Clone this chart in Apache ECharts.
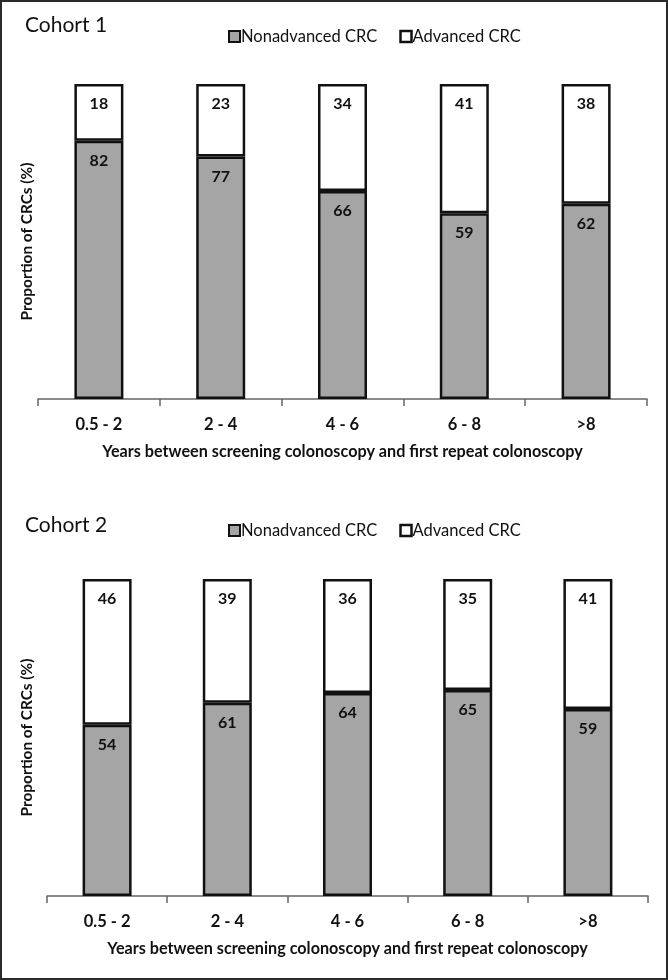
<!DOCTYPE html>
<html><head><meta charset="utf-8">
<script src="https://cdn.jsdelivr.net/npm/echarts@6/dist/echarts.min.js"></script>
<style>
html,body{margin:0;padding:0;background:#fff;}
#c{width:668px;height:980px;box-sizing:border-box;border:2px solid #2a2a2a;}
</style></head>
<body><div id="c"></div>
<script>
const categories = ['0.5 - 2', '2 - 4', '4 - 6', '6 - 8', '>8'];
const cohort1Nonadvanced = [82, 77, 66, 59, 62];
const cohort1Advanced = [18, 23, 34, 41, 38];
const cohort2Nonadvanced = [54, 61, 64, 65, 59];
const cohort2Advanced = [46, 39, 36, 35, 41];
const seriesNames = ['Nonadvanced CRC', 'Advanced CRC'];
const panelTitles = ['Cohort 1', 'Cohort 2'];
const xName = 'Years between screening colonoscopy and first repeat colonoscopy';
const yName = 'Proportion of CRCs (%)';

const FONT = 'Lato';
const GRAY = '#a5a5a5';
const chart = echarts.init(document.getElementById('c'), null, {renderer: 'canvas'});

function xAxis(gi) {
  return {
    type: 'category', gridIndex: gi, data: categories, boundaryGap: true,
    axisLine: {lineStyle: {color: '#666', width: 1.5}},
    axisTick: {show: true, length: 7, lineStyle: {color: '#666', width: 1.5}},
    axisLabel: {color: '#111', fontSize: 16.5, fontWeight: 'bold', fontFamily: FONT, margin: 17},
    name: xName, nameLocation: 'middle', nameGap: 45,
    nameTextStyle: {color: '#111', fontSize: 16.2, fontWeight: 'bold', fontFamily: FONT}
  };
}
function yAxis(gi, gap) {
  return {
    type: 'value', gridIndex: gi, min: 0, max: 100,
    axisLine: {show: false}, axisTick: {show: false}, axisLabel: {show: false}, splitLine: {show: false},
    name: yName, nameLocation: 'middle', nameGap: gap, nameRotate: 90,
    nameTextStyle: {color: '#111', fontSize: 15.4, fontWeight: 'bold', fontFamily: FONT}
  };
}
function bar(name, data, gi, fill) {
  return {
    name: name, type: 'bar', stack: 's' + gi, data: data,
    xAxisIndex: gi, yAxisIndex: gi, barWidth: 49,
    itemStyle: {color: fill, borderColor: '#111', borderWidth: 2.5},
    label: {show: true, position: 'insideTop', distance: 12, color: '#111',
      fontSize: 16, fontWeight: 'bold', fontFamily: FONT}
  };
}
function legend(top) {
  return {
    top: top, left: 221, itemGap: 22, itemWidth: 11, itemHeight: 11, icon: 'rect',
    data: [
      {name: seriesNames[0], itemStyle: {color: GRAY, borderColor: '#111', borderWidth: 2}},
      {name: seriesNames[1], itemStyle: {color: '#fff', borderColor: '#111', borderWidth: 2.5}}
    ],
    selectedMode: false,
    textStyle: {color: '#111', fontSize: 16.5, fontFamily: FONT, padding: [0, 0, 0, -4]}
  };
}

chart.setOption({
  animation: false,
  backgroundColor: '#fff',
  title: [
    {text: panelTitles[0], left: 18, top: 8, textStyle: {color: '#111', fontSize: 21, fontWeight: 'normal', fontFamily: FONT}},
    {text: panelTitles[1], left: 18, top: 508, textStyle: {color: '#111', fontSize: 21, fontWeight: 'normal', fontFamily: FONT}}
  ],
  legend: [legend(21), legend(515)],
  grid: [
    {left: 36, right: 19, top: 82, bottom: 579},
    {left: 45, right: 18, top: 577, bottom: 82}
  ],
  xAxis: [xAxis(0), xAxis(1)],
  yAxis: [yAxis(0, 3), yAxis(1, 12)],
  series: [
    bar(seriesNames[0], cohort1Nonadvanced, 0, GRAY),
    bar(seriesNames[1], cohort1Advanced, 0, '#ffffff'),
    bar(seriesNames[0], cohort2Nonadvanced, 1, GRAY),
    bar(seriesNames[1], cohort2Advanced, 1, '#ffffff')
  ]
});
</script>
</body></html>
